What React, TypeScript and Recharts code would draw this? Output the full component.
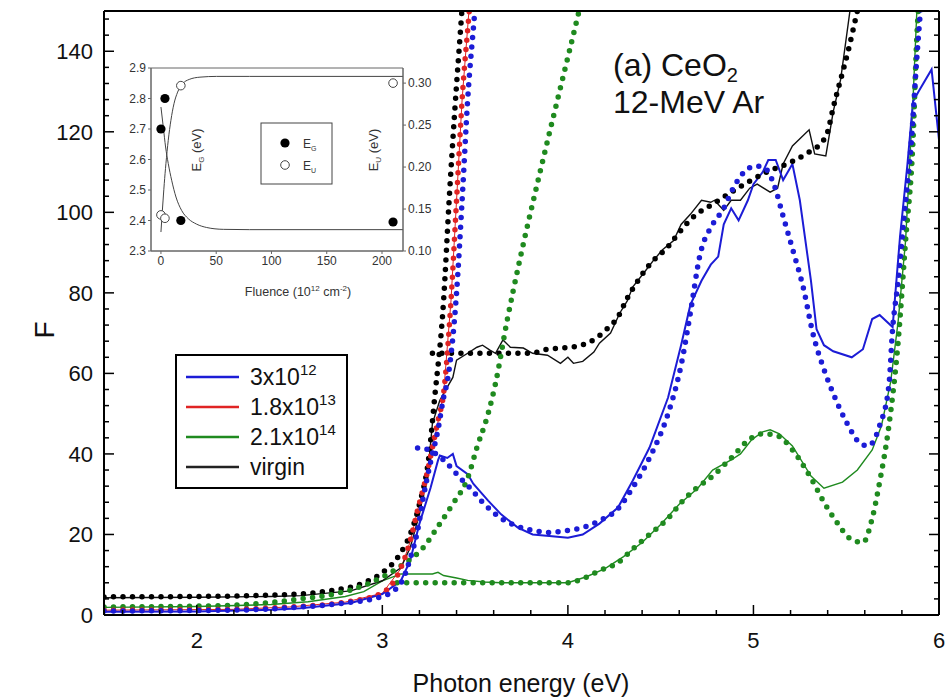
import React from 'react';
import { ComposedChart, Line, Scatter, XAxis, YAxis, ReferenceArea } from 'recharts';

const FONT = '"Liberation Sans", Arial, sans-serif';

// ---- main plot: F vs photon energy (eV) ----
// virgin, measured
const virginE = [1.5, 2.0, 2.4, 2.56, 2.83, 3.0, 3.1, 3.15, 3.2, 3.25, 3.27, 3.31, 3.35, 3.38, 3.4, 3.46, 3.51, 3.54, 3.58, 3.61, 3.65, 3.69, 3.76, 3.81, 3.89, 3.96, 4.0, 4.03, 4.08, 4.14, 4.17, 4.23, 4.28, 4.32, 4.35, 4.41, 4.46, 4.51, 4.57, 4.61, 4.66, 4.72, 4.77, 4.79, 4.84, 4.88, 4.93, 4.98, 5.02, 5.09, 5.13, 5.16, 5.21, 5.3, 5.33, 5.39, 5.43, 5.47, 5.52, 5.56];
const virginF = [4.3, 4.4, 4.6, 4.8, 6.0, 8.5, 11.7, 16.7, 25, 37.6, 47.6, 53.3, 56.6, 59, 63.3, 65, 66.5, 67, 65.8, 65, 68.3, 66.5, 66.3, 65, 64.5, 62.5, 64, 62.5, 63, 65.3, 67.5, 70, 75, 78, 81.5, 85, 88, 90.7, 93, 97, 99.5, 103, 102.5, 103, 100.5, 103, 103, 106, 107, 105, 106, 112, 116.5, 120.5, 114.5, 114, 125, 133, 150, 165];
// virgin, fits (edge + plateau)
const virginEdgeE = [1.5, 2.0, 2.3, 2.5, 2.7, 2.9, 3.0, 3.1, 3.15, 3.2, 3.25, 3.28, 3.33, 3.36, 3.39, 3.43, 3.46];
const virginEdgeF = [4.5, 4.6, 4.8, 5.1, 5.9, 8.0, 10.5, 15.5, 20, 27.5, 39, 53, 78, 103, 125, 151, 172];
const virginPlatE = [3.27, 3.5, 3.8, 3.89, 3.97, 4.07, 4.16, 4.21, 4.27, 4.32, 4.37, 4.44, 4.54, 4.6, 4.68, 4.78, 4.88, 4.97, 5.07, 5.18, 5.3, 5.36, 5.4, 5.43, 5.47, 5.51, 5.56, 5.6];
const virginPlatF = [65, 65, 65, 66, 66.3, 67, 69, 71, 74, 78.7, 82.5, 87, 91.5, 95, 99, 102, 105, 107.5, 110, 112, 115, 117, 120, 126, 133, 140, 150, 158];

// 3x10^12, measured
const lowE = [1.5, 2.0, 2.4, 2.56, 2.83, 3.0, 3.1, 3.15, 3.2, 3.26, 3.3, 3.31, 3.35, 3.38, 3.4, 3.46, 3.49, 3.57, 3.64, 3.73, 3.81, 3.9, 4.0, 4.08, 4.17, 4.27, 4.35, 4.44, 4.54, 4.61, 4.66, 4.72, 4.77, 4.81, 4.84, 4.88, 4.92, 4.97, 5.0, 5.05, 5.08, 5.12, 5.16, 5.21, 5.25, 5.31, 5.34, 5.38, 5.43, 5.53, 5.59, 5.64, 5.68, 5.75, 5.79, 5.83, 5.86, 5.89, 5.96, 6.0];
const lowF = [0.8, 0.9, 1.3, 1.7, 3.0, 5.2, 8.5, 13.5, 22.7, 31.6, 38.4, 39.6, 39, 40, 37, 35, 32.6, 28.4, 25, 21.7, 20, 19.6, 19.2, 20, 22.7, 26.7, 33.4, 41.6, 54, 67, 77, 83, 87, 89, 97, 101, 98, 103, 107, 110, 113, 113, 108, 112, 103, 83, 71, 67, 65.5, 64, 66, 73.5, 74.5, 71.5, 94, 112, 127.5, 130, 135.5, 118];
// 3x10^12, fits
const lowEdgeE = [1.5, 2.2, 2.5, 2.8, 3.0, 3.1, 3.15, 3.19, 3.22, 3.26, 3.3, 3.33, 3.35, 3.4, 3.43, 3.46, 3.5, 3.53];
const lowEdgeF = [1.0, 1.2, 1.8, 3.0, 4.6, 7.9, 14, 21, 29, 38, 46, 54, 58, 80, 103, 128, 151, 170];
const lowPeakE = [3.19, 3.25, 3.33, 3.42, 3.47, 3.54, 3.64, 3.73, 3.81, 3.9, 4.0, 4.08, 4.17, 4.27, 4.35, 4.44, 4.54, 4.59, 4.61, 4.66, 4.71, 4.78, 4.84, 4.88, 4.95, 5.01, 5.06, 5.11, 5.16, 5.21, 5.27, 5.32, 5.38, 5.43, 5.5, 5.58, 5.62, 5.68, 5.73, 5.75, 5.78, 5.81, 5.85, 5.88, 5.9, 5.92];
const lowPeakF = [41.5, 41, 38.5, 34, 31.7, 28, 24, 22, 21, 20.5, 21, 21.7, 23.4, 26.4, 31.7, 39, 50, 58, 62, 75, 89, 97, 101, 105, 110, 111.5, 111, 107, 99, 91, 81, 70, 61, 55, 48, 42.5, 42, 47, 57, 71, 83, 98, 117, 138, 150, 160];

// 1.8x10^13 (measured curve lies under its fit)
const midE = [1.5, 2.2, 2.5, 2.8, 3.0, 3.1, 3.15, 3.19, 3.24, 3.27, 3.3, 3.33, 3.37, 3.4, 3.43, 3.47];
const midF = [1.2, 1.4, 2.0, 3.2, 5.4, 11.5, 18.2, 26, 35, 41.5, 48, 55, 78, 103, 128, 152];
const midEdgeE = [1.5, 2.2, 2.5, 2.8, 3.0, 3.1, 3.15, 3.19, 3.24, 3.27, 3.3, 3.33, 3.37, 3.4, 3.43, 3.47, 3.5];
const midEdgeF = [1.2, 1.4, 2.0, 3.2, 5.5, 11.7, 18.4, 26, 35, 41.6, 48.3, 55, 78, 103, 128, 151, 170];

// 2.1x10^14
const highE = [1.5, 2.0, 2.4, 2.6, 2.8, 2.9, 3.0, 3.1, 3.2, 3.27, 3.3, 3.33, 3.4, 3.46, 3.55, 3.64, 3.8, 4.0, 4.1, 4.2, 4.3, 4.4, 4.5, 4.6, 4.7, 4.78, 4.88, 4.93, 4.99, 5.05, 5.09, 5.14, 5.21, 5.31, 5.38, 5.48, 5.56, 5.64, 5.69, 5.74, 5.78, 5.82, 5.86, 5.89];
const highF = [1.9, 2.1, 2.6, 3.3, 4.6, 5.8, 8.5, 10.2, 10.2, 10.2, 10.6, 9.8, 9.2, 8.6, 8.2, 8.0, 8.0, 8.0, 9.5, 11.5, 14.5, 18, 22.5, 27.5, 31.5, 36, 38.5, 40, 43.5, 45.5, 46, 45, 42, 34.5, 31.5, 33, 36, 41, 47, 58, 73, 93, 128, 160];
const highEdgeE = [1.5, 2.0, 2.3, 2.56, 2.74, 2.92, 3.1, 3.22, 3.31, 3.38, 3.46, 3.51, 3.57, 3.61, 3.67, 3.74, 3.85, 3.96, 4.06, 4.1];
const highEdgeF = [2.0, 2.2, 2.7, 4.0, 5.2, 7.7, 12.2, 16.7, 22.7, 27.6, 34, 41.6, 50, 57.5, 72.5, 88, 110, 131, 150, 158];
const highPlatE = [3.08, 3.5, 4.0, 4.08, 4.17, 4.27, 4.35, 4.44, 4.54, 4.62, 4.69, 4.78, 4.88, 4.99, 5.05, 5.13, 5.21, 5.31, 5.38, 5.45, 5.52, 5.59, 5.64, 5.68, 5.73, 5.78, 5.82, 5.86, 5.88, 5.91];
const highPlatF = [8, 8, 8, 9, 11, 13, 16.4, 20, 24, 28.4, 31.4, 34.5, 39, 44, 45, 44.5, 41, 34, 28, 23, 19, 18, 24, 33, 47, 68, 93, 118, 143, 160];

const xTicks = Array.from({ length: 23 }, (_, i) => +(1.6 + i * 0.2).toFixed(1));
const yTicks = Array.from({ length: 38 }, (_, i) => i * 4);

// ---- inset: band gap / Urbach energy vs fluence ----
const fluence = [0, 3.6, 18, 210];
const egValues = [2.7, 2.8, 2.4, 2.395];
const euValues = [0.143, 0.139, 0.297, 0.3];
const egFitF = [0, 2.1, 4.2, 6.6, 9.7, 13.6, 18.7, 24.7, 32.3, 41.4, 56.4, 80, 219];
const egFitV = [2.772, 2.707, 2.641, 2.587, 2.532, 2.477, 2.433, 2.406, 2.388, 2.377, 2.371, 2.37, 2.37];
const euFitF = [0, 1.5, 3.0, 4.5, 6.6, 9.0, 11.8, 15.1, 19.6, 25.6, 35.3, 50.4, 80, 219];
const euFitV = [0.1226, 0.1524, 0.1802, 0.204, 0.2318, 0.2556, 0.2755, 0.2893, 0.2993, 0.3044, 0.3071, 0.308, 0.308, 0.308];
const insetXTicks = [0, 50, 100, 150, 200];
const egTicks = [2.3, 2.4, 2.5, 2.6, 2.7, 2.8, 2.9];
const euTicks = [0.1, 0.15, 0.2, 0.25, 0.3];

const zip = (es: number[], fs: number[]) => es.map((e, i) => ({ e, F: fs[i] }));
const zipF = (fs: number[], vs: number[]) => fs.map((f, i) => ({ f, v: vs[i] }));

const BLUE = '#1c1cd6';
const RED = '#e02424';
const GREEN = '#1f8a1f';

const isMajorX = (v: number) => Math.abs(v - Math.round(v)) < 1e-6;

function BottomTick(props: any) {
  const { x, y, payload } = props;
  const major = isMajorX(payload.value);
  return (
    <g>
      <line x1={x} y1={y} x2={x} y2={y - (major ? 10 : 5)} stroke="#000" strokeWidth={1.5} />
      {major && (
        <text x={x} y={y + 33} textAnchor="middle" fontSize={22} fontFamily={FONT} fill="#111">
          {Math.round(payload.value)}
        </text>
      )}
    </g>
  );
}

function TopTick(props: any) {
  const { x, y, payload } = props;
  const major = isMajorX(payload.value);
  return <line x1={x} y1={y} x2={x} y2={y + (major ? 10 : 5)} stroke="#000" strokeWidth={1.5} />;
}

function LeftTick(props: any) {
  const { x, y, payload } = props;
  const major = payload.value % 20 === 0;
  return (
    <g>
      <line x1={x} y1={y} x2={x + (major ? 10 : 5)} y2={y} stroke="#000" strokeWidth={1.5} />
      {major && (
        <text x={x - 11} y={y + 8} textAnchor="end" fontSize={22} fontFamily={FONT} fill="#111">
          {payload.value}
        </text>
      )}
    </g>
  );
}

function RightTick(props: any) {
  const { x, y, payload } = props;
  const major = payload.value % 20 === 0;
  return <line x1={x} y1={y} x2={x - (major ? 10 : 5)} y2={y} stroke="#000" strokeWidth={1.5} />;
}

const dotted = {
  strokeWidth: 5.5,
  strokeDasharray: '0 9.5',
  strokeLinecap: 'round' as const,
  dot: false,
  type: 'monotone' as const,
  isAnimationActive: false,
};

const solid = {
  dot: false,
  type: 'linear' as const,
  isAnimationActive: false,
};

const legendRows = [
  { color: BLUE, base: '3x10', sup: '12' },
  { color: RED, base: '1.8x10', sup: '13' },
  { color: GREEN, base: '2.1x10', sup: '14' },
  { color: '#222', base: 'virgin', sup: '' },
];

const insetTick = { fontSize: 12, fill: '#333', fontFamily: FONT };

export default function App() {
  return (
    <div style={{ position: 'absolute', left: 0, top: 0, width: 947, height: 699, background: '#fff', fontFamily: FONT }}>
      <div style={{ position: 'absolute', left: 0, top: 0 }}>
        <ComposedChart width={947} height={699} margin={{ top: 10, right: 7, bottom: 44, left: 44 }}>
          <XAxis
            dataKey="e"
            type="number"
            domain={[1.5, 6]}
            allowDataOverflow
            ticks={xTicks}
            interval={0}
            height={40}
            tickSize={0}
            tickMargin={0}
            tickLine={false}
            axisLine={{ stroke: '#000', strokeWidth: 2 }}
            tick={<BottomTick />}
          />
          <XAxis
            xAxisId="top"
            orientation="top"
            type="number"
            domain={[1.5, 6]}
            allowDataOverflow
            ticks={xTicks}
            interval={0}
            height={1}
            tickSize={0}
            tickMargin={0}
            tickLine={false}
            axisLine={{ stroke: '#000', strokeWidth: 2 }}
            tick={<TopTick />}
          />
          <YAxis
            type="number"
            domain={[0, 150]}
            allowDataOverflow
            ticks={yTicks}
            interval={0}
            width={60}
            tickSize={0}
            tickMargin={0}
            tickLine={false}
            axisLine={{ stroke: '#000', strokeWidth: 2 }}
            tick={<LeftTick />}
          />
          <YAxis
            yAxisId="right"
            orientation="right"
            type="number"
            domain={[0, 150]}
            allowDataOverflow
            ticks={yTicks}
            interval={0}
            width={1}
            tickSize={0}
            tickMargin={0}
            tickLine={false}
            axisLine={{ stroke: '#000', strokeWidth: 2 }}
            tick={<RightTick />}
          />

          <Line data={zip(midE, midF)} dataKey="F" stroke={RED} strokeWidth={1} {...solid} />
          <Line data={zip(highE, highF)} dataKey="F" stroke={GREEN} strokeWidth={1.4} {...solid} />
          <Line data={zip(virginE, virginF)} dataKey="F" stroke="#111" strokeWidth={1.4} {...solid} />
          <Line data={zip(lowE, lowF)} dataKey="F" stroke={BLUE} strokeWidth={2} {...solid} />

          <Line data={zip(virginEdgeE, virginEdgeF)} dataKey="F" stroke="#000" {...dotted} />
          <Line data={zip(virginPlatE, virginPlatF)} dataKey="F" stroke="#000" {...dotted} />
          <Line data={zip(highEdgeE, highEdgeF)} dataKey="F" stroke={GREEN} {...dotted} />
          <Line data={zip(highPlatE, highPlatF)} dataKey="F" stroke={GREEN} {...dotted} />
          <Line data={zip(midEdgeE, midEdgeF)} dataKey="F" stroke={RED} {...dotted} />
          <Line data={zip(lowEdgeE, lowEdgeF)} dataKey="F" stroke={BLUE} {...dotted} />
          <Line data={zip(lowPeakE, lowPeakF)} dataKey="F" stroke={BLUE} {...dotted} />
        </ComposedChart>
      </div>

      <div style={{ position: 'absolute', left: 0, top: 0 }}>
        <ComposedChart width={947} height={699} margin={{ top: 68, right: 524, bottom: 428, left: 131 }}>
          <XAxis
            dataKey="f"
            type="number"
            domain={[-9, 219]}
            ticks={insetXTicks}
            interval={0}
            height={20}
            tickSize={3}
            stroke="#666"
            tick={insetTick}
          />
          <YAxis
            yAxisId="g"
            type="number"
            domain={[2.3, 2.9]}
            ticks={egTicks}
            interval={0}
            width={20}
            tickSize={3}
            stroke="#666"
            tickFormatter={(v: number) => v.toFixed(1)}
            tick={insetTick}
          />
          <YAxis
            yAxisId="u"
            orientation="right"
            type="number"
            domain={[0.1, 0.318]}
            ticks={euTicks}
            interval={0}
            width={20}
            tickSize={3}
            stroke="#666"
            tickFormatter={(v: number) => v.toFixed(2)}
            tick={insetTick}
          />
          <ReferenceArea yAxisId="g" x1={-9} x2={219} y1={2.3} y2={2.9} fill="none" stroke="#666" strokeWidth={1} />
          <Line yAxisId="g" data={zipF(egFitF, egFitV)} dataKey="v" type="monotone" stroke="#444" strokeWidth={1} dot={false} isAnimationActive={false} />
          <Line yAxisId="u" data={zipF(euFitF, euFitV)} dataKey="v" type="monotone" stroke="#444" strokeWidth={1} dot={false} isAnimationActive={false} />
          <Scatter
            yAxisId="g"
            data={zipF(fluence, egValues)}
            dataKey="v"
            isAnimationActive={false}
            shape={(p: any) => <circle cx={p.cx} cy={p.cy} r={4.6} fill="#000" />}
          />
          <Scatter
            yAxisId="u"
            data={zipF(fluence, euValues)}
            dataKey="v"
            isAnimationActive={false}
            shape={(p: any) => <circle cx={p.cx} cy={p.cy} r={4.3} fill="#fff" stroke="#444" strokeWidth={1} />}
          />
        </ComposedChart>
      </div>

      <svg width={947} height={699} style={{ position: 'absolute', left: 0, top: 0, pointerEvents: 'none' }} fontFamily={FONT}>
        {/* axis titles */}
        <text transform="translate(54,330) rotate(-90)" textAnchor="middle" fontSize={28} fill="#111">F</text>
        <text x={521} y={692} textAnchor="middle" fontSize={25} fill="#111">Photon energy (eV)</text>

        {/* annotation */}
        <text x={613} y={76} fontSize={32} fill="#111">
          (a) CeO<tspan fontSize={20} dy={6}>2</tspan>
        </text>
        <text x={613} y={113} fontSize={32} fill="#111">12-MeV Ar</text>

        {/* main legend */}
        <rect x={176} y={355} width={171} height={133} fill="#fff" stroke="#000" strokeWidth={2} />
        {legendRows.map((r, i) => (
          <g key={r.base}>
            <line x1={186} x2={239} y1={377 + i * 30} y2={377 + i * 30} stroke={r.color} strokeWidth={2.5} />
            <text x={250} y={385 + i * 30} fontSize={23} fill="#111">
              {r.base}
              {r.sup && <tspan fontSize={15} dy={-10}>{r.sup}</tspan>}
            </text>
          </g>
        ))}

        {/* inset labels */}
        <text transform="translate(201,150) rotate(-90)" textAnchor="middle" fontSize={13} fill="#333">
          E<tspan fontSize={8} dy={3}>G</tspan><tspan dy={-3}> (eV)</tspan>
        </text>
        <text transform="translate(378,150) rotate(-90)" textAnchor="middle" fontSize={13} fill="#333">
          E<tspan fontSize={8} dy={3}>U</tspan><tspan dy={-3}> (eV)</tspan>
        </text>
        <text x={298} y={296} textAnchor="middle" fontSize={12.5} fill="#333">
          Fluence (10<tspan fontSize={8} dy={-5}>12</tspan><tspan dy={5}> cm</tspan><tspan fontSize={8} dy={-5}>-2</tspan><tspan dy={5}>)</tspan>
        </text>
        <rect x={261} y={123} width={71} height={61} fill="#fff" stroke="#444" strokeWidth={1} />
        <circle cx={285} cy={143} r={4.6} fill="#000" />
        <circle cx={285} cy={165} r={4.3} fill="#fff" stroke="#444" strokeWidth={1} />
        <text x={303} y={148} fontSize={12} fill="#333">
          E<tspan fontSize={7} dy={3}>G</tspan>
        </text>
        <text x={303} y={170} fontSize={12} fill="#333">
          E<tspan fontSize={7} dy={3}>U</tspan>
        </text>
      </svg>
    </div>
  );
}
